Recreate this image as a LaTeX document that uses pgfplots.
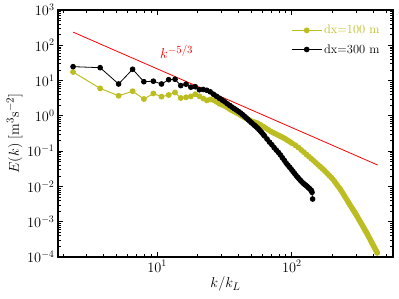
\documentclass[border=0pt]{standalone}
\usepackage{pgfplots}
\pgfplotsset{compat=1.18}
\definecolor{olivey}{RGB}{188,189,34}
\begin{document}
\begin{tikzpicture}
\begin{axis}[
  xmode=log, ymode=log,
  scale only axis,
  width=335bp, height=247bp,
  xmin=1.84, xmax=562,
  ymin=1e-4, ymax=1e3,
  xtick={10,100},
  minor xtick={2,3,4,5,6,7,8,9,20,30,40,50,60,70,80,90,200,300,400,500},
  ytick={1e-4,1e-3,1e-2,1e-1,1,10,100,1000},
  minor ytick={2e-4,3e-4,4e-4,5e-4,6e-4,7e-4,8e-4,9e-4,
               2e-3,3e-3,4e-3,5e-3,6e-3,7e-3,8e-3,9e-3,
               2e-2,3e-2,4e-2,5e-2,6e-2,7e-2,8e-2,9e-2,
               2e-1,3e-1,4e-1,5e-1,6e-1,7e-1,8e-1,9e-1,
               2,3,4,5,6,7,8,9,20,30,40,50,60,70,80,90,200,300,400,500,600,700,800,900},
  tick align=inside,
  major tick length=5bp, minor tick length=3bp,
  every major tick/.append style={line width=0.9pt, black},
  every minor tick/.append style={line width=0.6pt, black},
  axis line style={line width=1.4pt},
  tick label style={font=\fontsize{14}{16}\selectfont},
  label style={font=\fontsize{15}{17}\selectfont},
  xlabel={$k/k_L$},
  ylabel={$E(k)$ $[\mathrm{m^3s^{-2}}]$},
  xlabel style={yshift=2bp},
  ylabel style={yshift=-2bp},
  legend style={draw=none, fill=none, at={(0.975,0.955)}, anchor=north east,
    font=\fontsize{12.5}{14}\selectfont, row sep=5bp},
  legend cell align=left,
  legend image code/.code={\draw[mark repeat=2,mark phase=2] plot coordinates {(0bp,0bp)(15bp,0bp)(30bp,0bp)};},
]
\addplot[color=olivey, line width=1pt, mark=*, mark size=2.4bp] coordinates {
(2.38,17.5)(3.78,6.0)(5.18,3.7)(6.58,5.0)(7.98,3.0)(9.38,4.3)(10.78,3.5)(12.18,3.9)(13.58,4.6)(14.98,3.2)(16.38,3.35)(17.78,3.55)(19.18,4.1)
(20.58,3.6)(21.98,3.1)(23.38,2.75)(24.78,2.9)(26.18,2.8)(27.58,2.5)(28.98,2.2)(30.38,2.05)(31.78,1.9)(33.18,1.72)(34.58,1.55)
(35.98,1.42)(37.38,1.32)(38.78,1.22)(40.18,1.14)(41.58,1.05)(42.98,0.97)(44.38,0.90)(45.78,0.85)(47.18,0.80)(48.58,0.75)
(49.98,0.71)(52.78,0.664)(55.58,0.62)(58.38,0.56)(61.18,0.50)(63.98,0.449)(66.78,0.403)(69.58,0.364)(72.38,0.336)(75.18,0.312)
(77.98,0.291)(80.78,0.272)(83.58,0.255)(86.38,0.239)(89.18,0.224)(91.98,0.207)(94.78,0.193)(97.58,0.180)(100.38,0.167)
(105.98,0.1466)(111.58,0.127)(117.18,0.108)(122.78,0.0929)(128.38,0.080)(133.98,0.0695)(139.58,0.0605)(145.18,0.053)
(150.78,0.0465)(156.38,0.041)(161.98,0.0363)(167.58,0.0324)(173.18,0.0288)(178.78,0.0255)(184.38,0.0226)(189.98,0.0201)
(195.58,0.0180)(201.18,0.0160)(206.78,0.0139)(212.38,0.0121)(217.98,0.01057)(223.58,0.00929)(229.18,0.00817)(234.78,0.00706)
(240.38,0.0061)(245.98,0.00528)(251.58,0.0046)(257.18,0.00402)(262.78,0.00351)(268.38,0.00308)(273.98,0.00272)(279.58,0.0024)
(285.18,0.00213)(290.78,0.00189)(296.38,0.00169)(301.98,0.0015)(307.58,0.00133)(313.18,0.00118)(318.78,0.00105)(324.38,0.00094)
(329.98,0.00084)(335.58,0.00075)(341.18,0.00067)(346.78,0.0006)(352.38,0.00054)(357.98,0.00049)(363.58,0.000437)(369.18,0.000392)
(374.78,0.000351)(380.38,0.000315)(385.98,0.000283)(391.58,0.000255)(397.18,0.00023)(402.78,0.000208)(408.38,0.000188)
(413.98,0.000171)(419.58,0.000155)(425.18,0.000141)(429.38,0.000131)
};
\addlegendentry{\textcolor{olivey}{dx=100 m}}
\addplot[color=black, line width=0.8pt, mark=*, mark size=2.4bp] coordinates {
(2.38,24.8)(3.78,23.2)(5.18,8.0)(6.58,20.9)(7.98,9.3)(9.38,9.6)(10.78,8.0)(12.18,10.6)(13.58,10.9)(14.98,7.2)(16.38,7.9)(17.78,6.5)(19.18,6.7)
(20.58,5.5)(21.98,5.6)(23.38,5.3)(24.78,4.8)(26.18,4.1)(27.58,3.6)(28.98,3.15)(30.38,2.8)(31.78,2.5)(33.18,2.2)(34.58,1.97)
(35.98,1.77)(37.38,1.6)(38.78,1.46)(40.18,1.33)(41.58,1.21)(42.98,1.09)(44.38,0.98)(45.78,0.88)(47.18,0.79)(48.58,0.71)
(49.98,0.645)(51.38,0.59)(52.78,0.54)(54.18,0.495)(55.58,0.45)(56.98,0.41)(58.38,0.37)(59.78,0.335)(61.18,0.30)(62.58,0.27)
(65.38,0.22)(68.18,0.18)(70.98,0.152)(73.78,0.126)(76.58,0.107)(79.38,0.092)(82.18,0.078)(84.98,0.065)(87.78,0.055)(90.58,0.046)
(93.38,0.040)(96.18,0.035)(98.98,0.0305)(101.78,0.0267)(104.58,0.0234)(107.38,0.0205)(110.18,0.0183)(112.98,0.0164)(115.78,0.0148)
(118.58,0.0134)(121.38,0.0123)(124.18,0.0114)(126.98,0.0107)(129.78,0.0100)(132.58,0.0092)(135.38,0.0086)(138.18,0.0079)
(139.58,0.0076)(140.98,0.0068)(142.38,0.0044)
};
\addlegendentry{dx=300 m}
\addplot[color=red, line width=0.8pt, forget plot] coordinates {(2.38,236) (433,0.0403)};
\node[red, anchor=base west, font=\fontsize{15}{17}\selectfont] at (axis cs:9.9,43) {$k^{-5/3}$};
\end{axis}
\pgfresetboundingbox
\path ([shift={(-58bp,-42bp)}]current axis.south west) rectangle ([shift={(6bp,10bp)}]current axis.north east);
\end{tikzpicture}
\end{document}
